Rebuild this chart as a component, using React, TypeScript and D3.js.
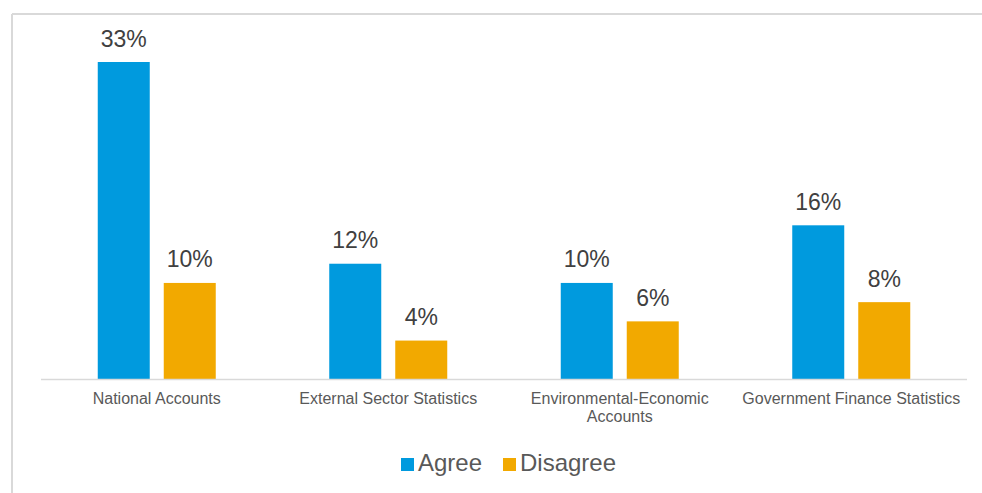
import React from "react";
import * as d3 from "d3";

const categories = [
  "National Accounts",
  "External Sector Statistics",
  "Environmental-Economic Accounts",
  "Government Finance Statistics",
];
const seriesNames = ["Agree", "Disagree"];
const agreeValues = [33, 12, 10, 16];
const disagreeValues = [10, 4, 6, 8];
const seriesColors = ["#009ADE", "#F2A900"];

const W = 982;
const H = 493;
const FONT = "'Liberation Sans', Arial, sans-serif";

function measure(text: string, size: number) {
  const c = document.createElement("canvas").getContext("2d");
  if (!c) return text.length * size * 0.5;
  c.font = `${size}px 'Liberation Sans'`;
  return c.measureText(text).width;
}

function wrap(text: string, maxW: number, size: number): string[] {
  const words = text.split(/(?<=-)|\s+/).filter((w) => w.length);
  const lines: string[] = [];
  let cur = "";
  for (const w of words) {
    const sep = cur === "" || cur.endsWith("-") ? "" : " ";
    const test = cur + sep + w;
    if (cur && measure(test, size) > maxW) {
      lines.push(cur);
      cur = w;
    } else cur = test;
  }
  if (cur) lines.push(cur);
  return lines;
}

export default function App() {
  const x0 = d3.scaleBand<string>().domain(categories).range([41, 967]).paddingInner(0).paddingOuter(0);
  const bw = 52;
  const gap = 14;
  const y = d3.scaleLinear().domain([0, 33]).range([379, 62]);
  const data = [agreeValues, disagreeValues];

  return (
    <svg width={W} height={H} style={{ position: "absolute", left: 0, top: 0 }} fontFamily={FONT}>
      <rect x={0} y={0} width={W} height={H} fill="#fff" />
      <line x1={12} y1={14} x2={W} y2={14} stroke="#d9d9d9" strokeWidth={2} />
      <line x1={12} y1={14} x2={12} y2={H} stroke="#d9d9d9" strokeWidth={2} />
      {categories.map((c, i) => {
        const cx = (x0(c) as number) + x0.bandwidth() / 2;
        return (
          <g key={c}>
            {data.map((vals, s) => {
              const bx = s === 0 ? cx - gap / 2 - bw : cx + gap / 2;
              const v = vals[i];
              return (
                <g key={s}>
                  <rect x={bx} y={y(v)} width={bw} height={y(0) - y(v)} fill={seriesColors[s]} />
                  <text x={bx + bw / 2} y={y(v) - 15.5} textAnchor="middle" fontSize={23} fill="#404040">
                    {v}%
                  </text>
                </g>
              );
            })}
            {wrap(c, x0.bandwidth() - 4, 16).map((ln, k) => (
              <text key={k} x={cx} y={404 + k * 18} textAnchor="middle" fontSize={16} fill="#595959">
                {ln}
              </text>
            ))}
          </g>
        );
      })}
      <line x1={41} x2={967} y1={379.5} y2={379.5} stroke="#d9d9d9" strokeWidth={1.5} />
      {seriesNames.map((n, s) => {
        const lx = s === 0 ? 401 : 503;
        return (
          <g key={n}>
            <rect x={lx} y={458} width={13} height={13} fill={seriesColors[s]} />
            <text x={lx + 17} y={471} fontSize={24} fill="#595959">
              {n}
            </text>
          </g>
        );
      })}
    </svg>
  );
}
